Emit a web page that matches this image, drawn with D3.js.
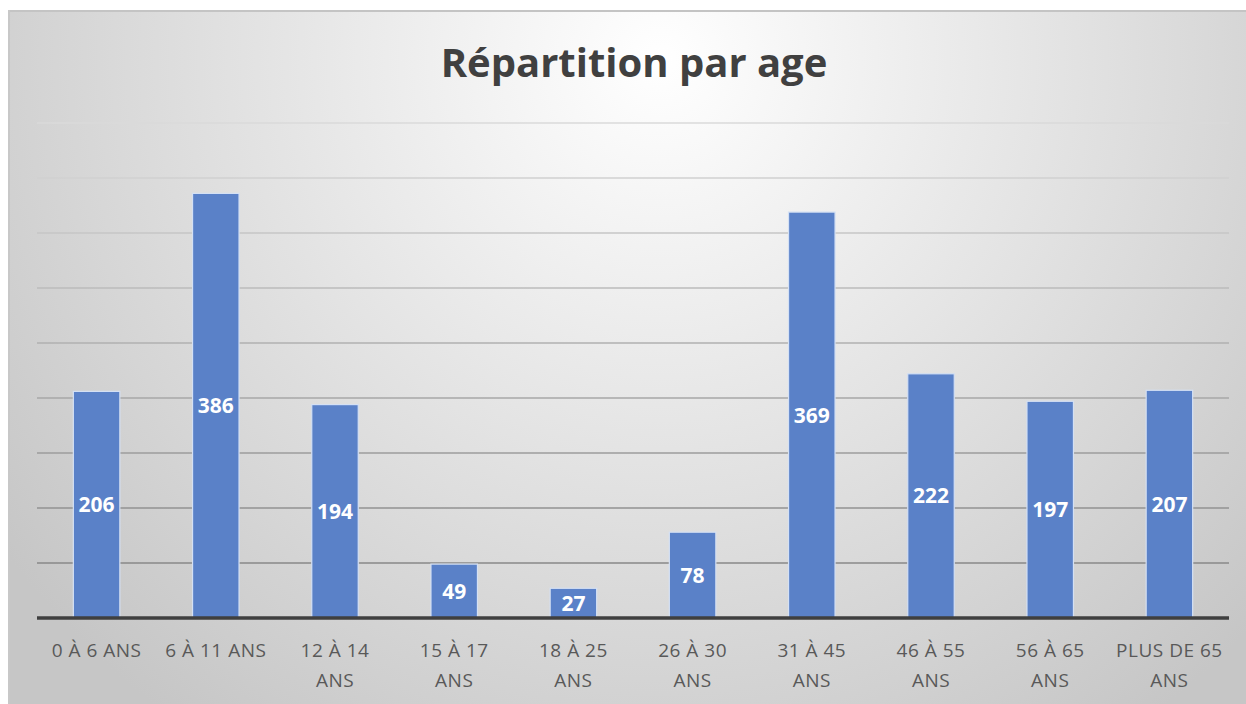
<!DOCTYPE html>
<html>
<head>
<meta charset="utf-8">
<script src="https://cdn.jsdelivr.net/npm/d3@7"></script>
<style>
  body { margin: 0; background: #ffffff; }
  svg { display: block; }
</style>
</head>
<body>
<script>
'use strict';

// chart data
const categories = ["0 À 6 ANS", "6 À 11 ANS", "12 À 14 ANS", "15 À 17 ANS", "18 À 25 ANS",
  "26 À 30 ANS", "31 À 45 ANS", "46 À 55 ANS", "56 À 65 ANS", "PLUS DE 65 ANS"];
const values = [206, 386, 194, 49, 27, 78, 369, 222, 197, 207];
const gridTicks = [0, 50, 100, 150, 200, 250, 300, 350, 400, 450];
const title = "Répartition par age";

(function() {
  const width = 1246, height = 704;
  const plot = {left: 37, right: 1229, top: 123, bottom: 618};
  const font = '"Open Sans", Lato, sans-serif';

  const svg = d3.select('body')
    .append('svg')
    .attr('width', width)
    .attr('height', height);

  // background gradient (white near the title, gray towards the edges)
  let defs = svg.append('defs');
  let grad = defs.append('radialGradient')
    .attr('id', 'bg')
    .attr('gradientUnits', 'userSpaceOnUse')
    .attr('cx', 660).attr('cy', 60).attr('r', 820);
  grad.append('stop').attr('offset', '0%').attr('stop-color', '#ffffff');
  grad.append('stop').attr('offset', '100%').attr('stop-color', '#c6c6c6');

  svg.append('rect')
    .attr('x', 8).attr('y', 10)
    .attr('width', width - 8).attr('height', height - 10)
    .attr('fill', 'url(#bg)');
  svg.append('line')
    .attr('x1', 8).attr('x2', width)
    .attr('y1', 11).attr('y2', 11)
    .attr('stroke', '#c4c4c4').attr('stroke-width', 2);
  svg.append('line')
    .attr('x1', 9).attr('x2', 9)
    .attr('y1', 10).attr('y2', height)
    .attr('stroke', '#c8c8c8').attr('stroke-width', 2);

  // scales
  let x = d3.scaleBand()
    .domain(categories)
    .range([plot.left, plot.right])
    .paddingInner(0.61)
    .paddingOuter(0.305);

  let y = d3.scaleLinear()
    .domain([0, 450])
    .range([plot.bottom, plot.top]);

  // gridlines, darker towards the bottom
  let gridColor = d3.scaleLinear()
    .domain([plot.top, plot.bottom])
    .range(['#dadada', '#7e7e7e']);

  svg.append('g')
    .selectAll('line')
    .data(gridTicks.slice(1))
    .enter()
    .append('line')
      .attr('x1', plot.left)
      .attr('x2', plot.right)
      .attr('y1', (d) => y(d))
      .attr('y2', (d) => y(d))
      .attr('stroke', (d) => gridColor(y(d)))
      .attr('stroke-width', 1.5);

  // bars
  svg.append('g')
    .selectAll('rect')
    .data(values)
    .enter()
    .append('rect')
      .attr('x', (d, i) => x(categories[i]))
      .attr('y', (d) => y(d))
      .attr('width', x.bandwidth())
      .attr('height', (d) => y(0) - y(d))
      .attr('fill', '#5a81c8')
      .attr('stroke', '#d4e0f4')
      .attr('stroke-width', 1.2);

  // value labels in the middle of each bar
  svg.append('g')
    .selectAll('text')
    .data(values)
    .enter()
    .append('text')
      .attr('x', (d, i) => x(categories[i]) + x.bandwidth() / 2)
      .attr('y', (d) => (y(d) + y(0)) / 2)
      .attr('dy', '0.36em')
      .attr('text-anchor', 'middle')
      .style('font-family', font)
      .style('font-weight', 'bold')
      .style('font-size', '21px')
      .style('fill', '#ffffff')
      .text((d) => d);

  // baseline
  svg.append('line')
    .attr('x1', plot.left)
    .attr('x2', plot.right)
    .attr('y1', y(0))
    .attr('y2', y(0))
    .attr('stroke', '#3f3f3f')
    .attr('stroke-width', 3.5);

  // category labels, wrapped at 10 characters per line
  let xAxis = svg.append('g')
    .attr('transform', 'translate(0,' + (y(0) + 39) + ')');
  categories.forEach((c) => {
    let cx = x(c) + x.bandwidth() / 2;
    let t = xAxis.append('text')
      .attr('x', cx)
      .attr('text-anchor', 'middle')
      .style('font-family', font)
      .style('font-size', '19px')
      .style('letter-spacing', '0.5px')
      .style('fill', '#595959');
    wrapLines(c, 10).forEach((line, k) => {
      t.append('tspan')
        .attr('x', cx)
        .attr('dy', k == 0 ? 0 : 30)
        .text(line);
    });
  });

  function wrapLines(str, maxChars) {
    let lines = [];
    let cur = "";
    str.split(' ').forEach((w) => {
      let next = cur ? cur + ' ' + w : w;
      if (next.length > maxChars && cur) {
        lines.push(cur);
        cur = w;
      } else {
        cur = next;
      }
    });
    lines.push(cur);
    return lines;
  }

  // title
  svg.append('text')
    .attr('x', 634)
    .attr('y', 77)
    .attr('text-anchor', 'middle')
    .style('font-family', font)
    .style('font-weight', 'bold')
    .style('font-size', '40px')
    .style('fill', '#404040')
    .text(title);
})();
</script>
</body>
</html>
